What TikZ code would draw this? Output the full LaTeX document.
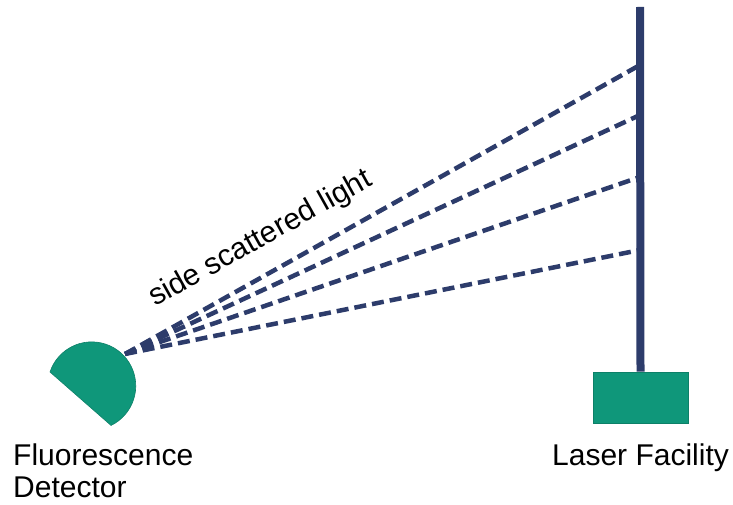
\documentclass[tikz,border=0pt]{standalone}
\usepackage{fontspec}
\setmainfont{Liberation Sans}
\usetikzlibrary{positioning}

\definecolor{beamblue}{HTML}{2D3C6B}
\definecolor{devgreen}{HTML}{0F977A}

\begin{document}
\begin{tikzpicture}[
    x=1pt,y=1pt,
    beam/.style={draw=beamblue,line width=4.5pt,dash pattern=on 12pt off 6pt},
    device/.style={fill=devgreen,draw=devgreen!85!black,line width=0.6pt},
    caption/.style={font=\fontsize{30}{32}\selectfont,inner sep=0pt,align=left}
]
\useasboundingbox (0,0) rectangle (733,504);

% detector: a disc cut by a slanted chord
\coordinate (det) at (92,118);
\coordinate (src) at (125,150);
\fill[device] (50,132) arc[start angle=161.6,end angle=-64,radius=44] -- cycle;

% laser on its stand
\node[device,minimum width=95pt,minimum height=51pt,inner sep=0pt] (laser) at (640.5,106.5) {};
\coordinate (top) at (640,497);

% scattered light from points along the beam
\foreach \h [count=\i] in {439,389,327,254}
    \coordinate (hit\i) at (640,\h);
\foreach \i in {1,...,4}
    \draw[beam] (src) -- (hit\i);

\draw[beamblue,line width=8pt] (laser.north) -- (top);

\node[caption,anchor=base west,rotate=29.2] (side) at (155,197) {side scattered light};
\node[caption,anchor=base west] (fd) at (13,7) {Fluorescence\\Detector};
\node[caption,anchor=base west] (lf) at (552,39) {Laser Facility};
\end{tikzpicture}
\end{document}
